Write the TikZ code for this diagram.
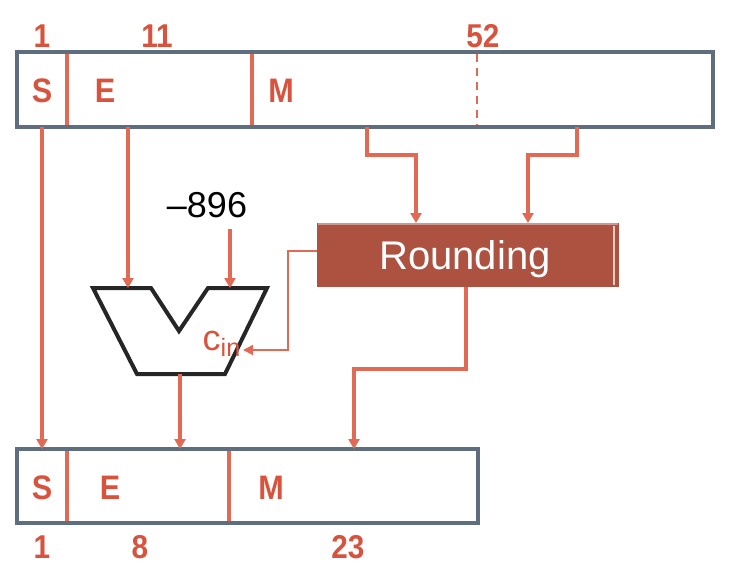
\documentclass[tikz,border=0pt]{standalone}
\usepackage{fontspec}
\setmainfont{Liberation Sans}
\newfontfamily\narrowsans[FakeStretch=0.9]{Liberation Sans}
\usetikzlibrary{arrows.meta}
\definecolor{boxgray}{HTML}{5E6E7E}
\definecolor{wire}{HTML}{E06A53}
\definecolor{lbl}{HTML}{D8533E}
\definecolor{rnd}{HTML}{AD5241}
\tikzset{
  regbox/.style={draw=boxgray, line width=2pt, inner sep=0pt},
  field/.style={text=lbl, font=\narrowsans\fontsize{17}{17}\selectfont\bfseries},
  width/.style={text=lbl, font=\narrowsans\fontsize{16.5}{16.5}\selectfont\bfseries},
  wireline/.style={draw=wire, line width=1.7pt},
  arr/.style={wireline, -{Triangle[length=5pt,width=5.5pt]}},
}
\begin{document}
\begin{tikzpicture}[x=0.5pt,y=-0.5pt]
        \useasboundingbox (0,0) rectangle (730,570);
            % double precision word
            \node[regbox, minimum width=348pt, minimum height=37.5pt] (dbl) at (365,89.5) {};
            \draw[wireline] (67,54) -- (67,125);
            \draw[wireline] (252,54) -- (252,125);
            \draw[draw=wire, line width=0.8pt, dash pattern=on 4pt off 3pt] (477,54) -- (477,125);
            \node[field] (dS) at (42,91) {S};
            \node[field] (dE) at (105,91) {E};
            \node[field] (dM) at (281,91) {M};
            \node[width] (dw1) at (42,36) {1};
            \node[width] (dw11) at (157,36) {11};
            \node[width] (dw52) at (483,36) {52};

            % single precision word
            \node[regbox, minimum width=230.5pt, minimum height=37pt] (sgl) at (247.5,486) {};
            \draw[wireline] (67,451) -- (67,521);
            \draw[wireline] (229,451) -- (229,521);
            \node[field] (sS) at (42,488) {S};
            \node[field] (sE) at (110,488) {E};
            \node[field] (sM) at (271,488) {M};
            \node[width] (sw1) at (42,547) {1};
            \node[width] (sw8) at (140,547) {8};
            \node[width] (sw23) at (348,547) {23};

            % exponent adder
            \draw[draw=black!85, line width=2pt, line join=miter]
                (93,288) -- (151,288) -- (179,331) -- (208,288) -- (267,288)
                -- (225,374) -- (137,374) -- cycle;
            \coordinate (addA) at (130,288);
            \coordinate (addB) at (230,288);
            \coordinate (addC) at (243,350);
            \coordinate (addOut) at (180,374);
            \node[text=lbl, font=\fontsize{18}{18}\selectfont] (cin) at (222,344) {c\textsubscript{in}};
            \node[font=\fontsize{18}{18}\selectfont] (bias) at (207,205) {\textendash896};

            % rounding unit
            \node[fill=rnd, minimum width=151pt, minimum height=32pt, inner sep=0pt] (round) at (468,255) {};
            \node[text=white, font=\fontsize{20}{20}\selectfont] (roundtxt) at (465,259) {Rounding};
            \draw[draw=white!70!rnd, line width=0.8pt] (614,226) -- (614,285);
            \draw[draw=white!40!rnd, line width=0.6pt] (318,224) -- (618,224);

            \coordinate (dSb) at (42,127);
            \coordinate (dEb) at (128,127);
            \coordinate (dM1) at (367,127);
            \coordinate (dM2) at (577,127);
            \coordinate (sSt) at (42,449);
            \coordinate (sEt) at (180,449);
            \coordinate (sMt) at (354,449);

            \draw[arr] (dSb) -- (sSt);
            \draw[arr] (dEb) -- (dEb |- addA);
            \draw[arr] (bias.south -| addB) ++(0,4) -- (addB);
            \draw[arr] (dM1) |- (416,155) -- (416,223);
            \draw[arr] (dM2) |- (528,155) -- (528,223);
            \draw[draw=wire, line width=0.8pt, -{Triangle[length=5pt,width=5pt]}]
                (round.west |- 0,251) -| (288,350) -- (addC);
            \draw[arr] (addOut) -- (sEt);
            \draw[arr] (466,287) |- (354,369) -- (sMt);
\end{tikzpicture}
\end{document}
